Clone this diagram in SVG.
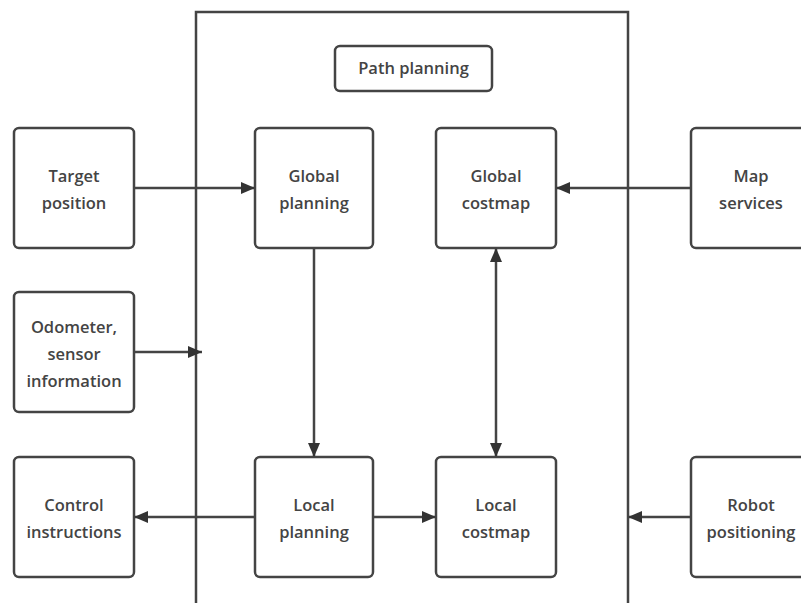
<svg xmlns="http://www.w3.org/2000/svg" width="801" height="603" viewBox="0 0 801 603">
<style>
.box{fill:#fff;stroke:#444;stroke-width:2.5}
.t{font-family:"Open Sans","Noto Sans",sans-serif;font-weight:600;font-size:16.5px;fill:#444;text-anchor:middle}
.c{stroke:#444;stroke-width:2.5;fill:none}
</style>
<defs>
<marker id="ah" viewBox="0 0 14 12" refX="14" refY="6" markerWidth="14" markerHeight="12" markerUnits="userSpaceOnUse" orient="auto-start-reverse">
<path d="M0,0 L14,6 L0,12 Z" fill="#333"/>
</marker>
</defs>
<rect width="801" height="603" fill="#fff"/>
<g id="container">
<path class="c" d="M196,603 V12 H628 V603"/>
</g>
<g id="path-planning">
<rect class="box" x="335" y="46" width="157" height="45" rx="5"/>
<text class="t" x="413.5" y="74">Path planning</text>
</g>
<g id="target-position">
<rect class="box" x="14" y="128" width="120" height="120" rx="5"/>
<text class="t" x="74" y="182">Target</text>
<text class="t" x="74" y="209">position</text>
</g>
<g id="global-planning">
<rect class="box" x="255" y="128" width="118" height="120" rx="5"/>
<text class="t" x="314" y="182">Global</text>
<text class="t" x="314" y="209">planning</text>
</g>
<g id="global-costmap">
<rect class="box" x="436" y="128" width="120" height="120" rx="5"/>
<text class="t" x="496" y="182">Global</text>
<text class="t" x="496" y="209">costmap</text>
</g>
<g id="map-services">
<rect class="box" x="691" y="128" width="120" height="120" rx="5"/>
<text class="t" x="751" y="182">Map</text>
<text class="t" x="751" y="209">services</text>
</g>
<g id="odometer">
<rect class="box" x="14" y="292" width="120" height="120" rx="5"/>
<text class="t" x="74" y="333">Odometer,</text>
<text class="t" x="74" y="360">sensor</text>
<text class="t" x="74" y="387">information</text>
</g>
<g id="control-instructions">
<rect class="box" x="14" y="457" width="120" height="120" rx="5"/>
<text class="t" x="74" y="511">Control</text>
<text class="t" x="74" y="538">instructions</text>
</g>
<g id="local-planning">
<rect class="box" x="255" y="457" width="118" height="120" rx="5"/>
<text class="t" x="314" y="511">Local</text>
<text class="t" x="314" y="538">planning</text>
</g>
<g id="local-costmap">
<rect class="box" x="436" y="457" width="120" height="120" rx="5"/>
<text class="t" x="496" y="511">Local</text>
<text class="t" x="496" y="538">costmap</text>
</g>
<g id="robot-positioning">
<rect class="box" x="691" y="457" width="120" height="120" rx="5"/>
<text class="t" x="751" y="511">Robot</text>
<text class="t" x="751" y="538">positioning</text>
</g>
<g id="connectors">
<line class="c" x1="134" y1="188" x2="255" y2="188" marker-end="url(#ah)"/>
<line class="c" x1="691" y1="188" x2="556" y2="188" marker-end="url(#ah)"/>
<line class="c" x1="134" y1="352" x2="202" y2="352" marker-end="url(#ah)"/>
<line class="c" x1="314" y1="248" x2="314" y2="457" marker-end="url(#ah)"/>
<line class="c" x1="496" y1="248" x2="496" y2="457" marker-start="url(#ah)" marker-end="url(#ah)"/>
<line class="c" x1="255" y1="517" x2="134" y2="517" marker-end="url(#ah)"/>
<line class="c" x1="373" y1="517" x2="436" y2="517" marker-end="url(#ah)"/>
<line class="c" x1="691" y1="517" x2="628" y2="517" marker-end="url(#ah)"/>
</g>
</svg>
